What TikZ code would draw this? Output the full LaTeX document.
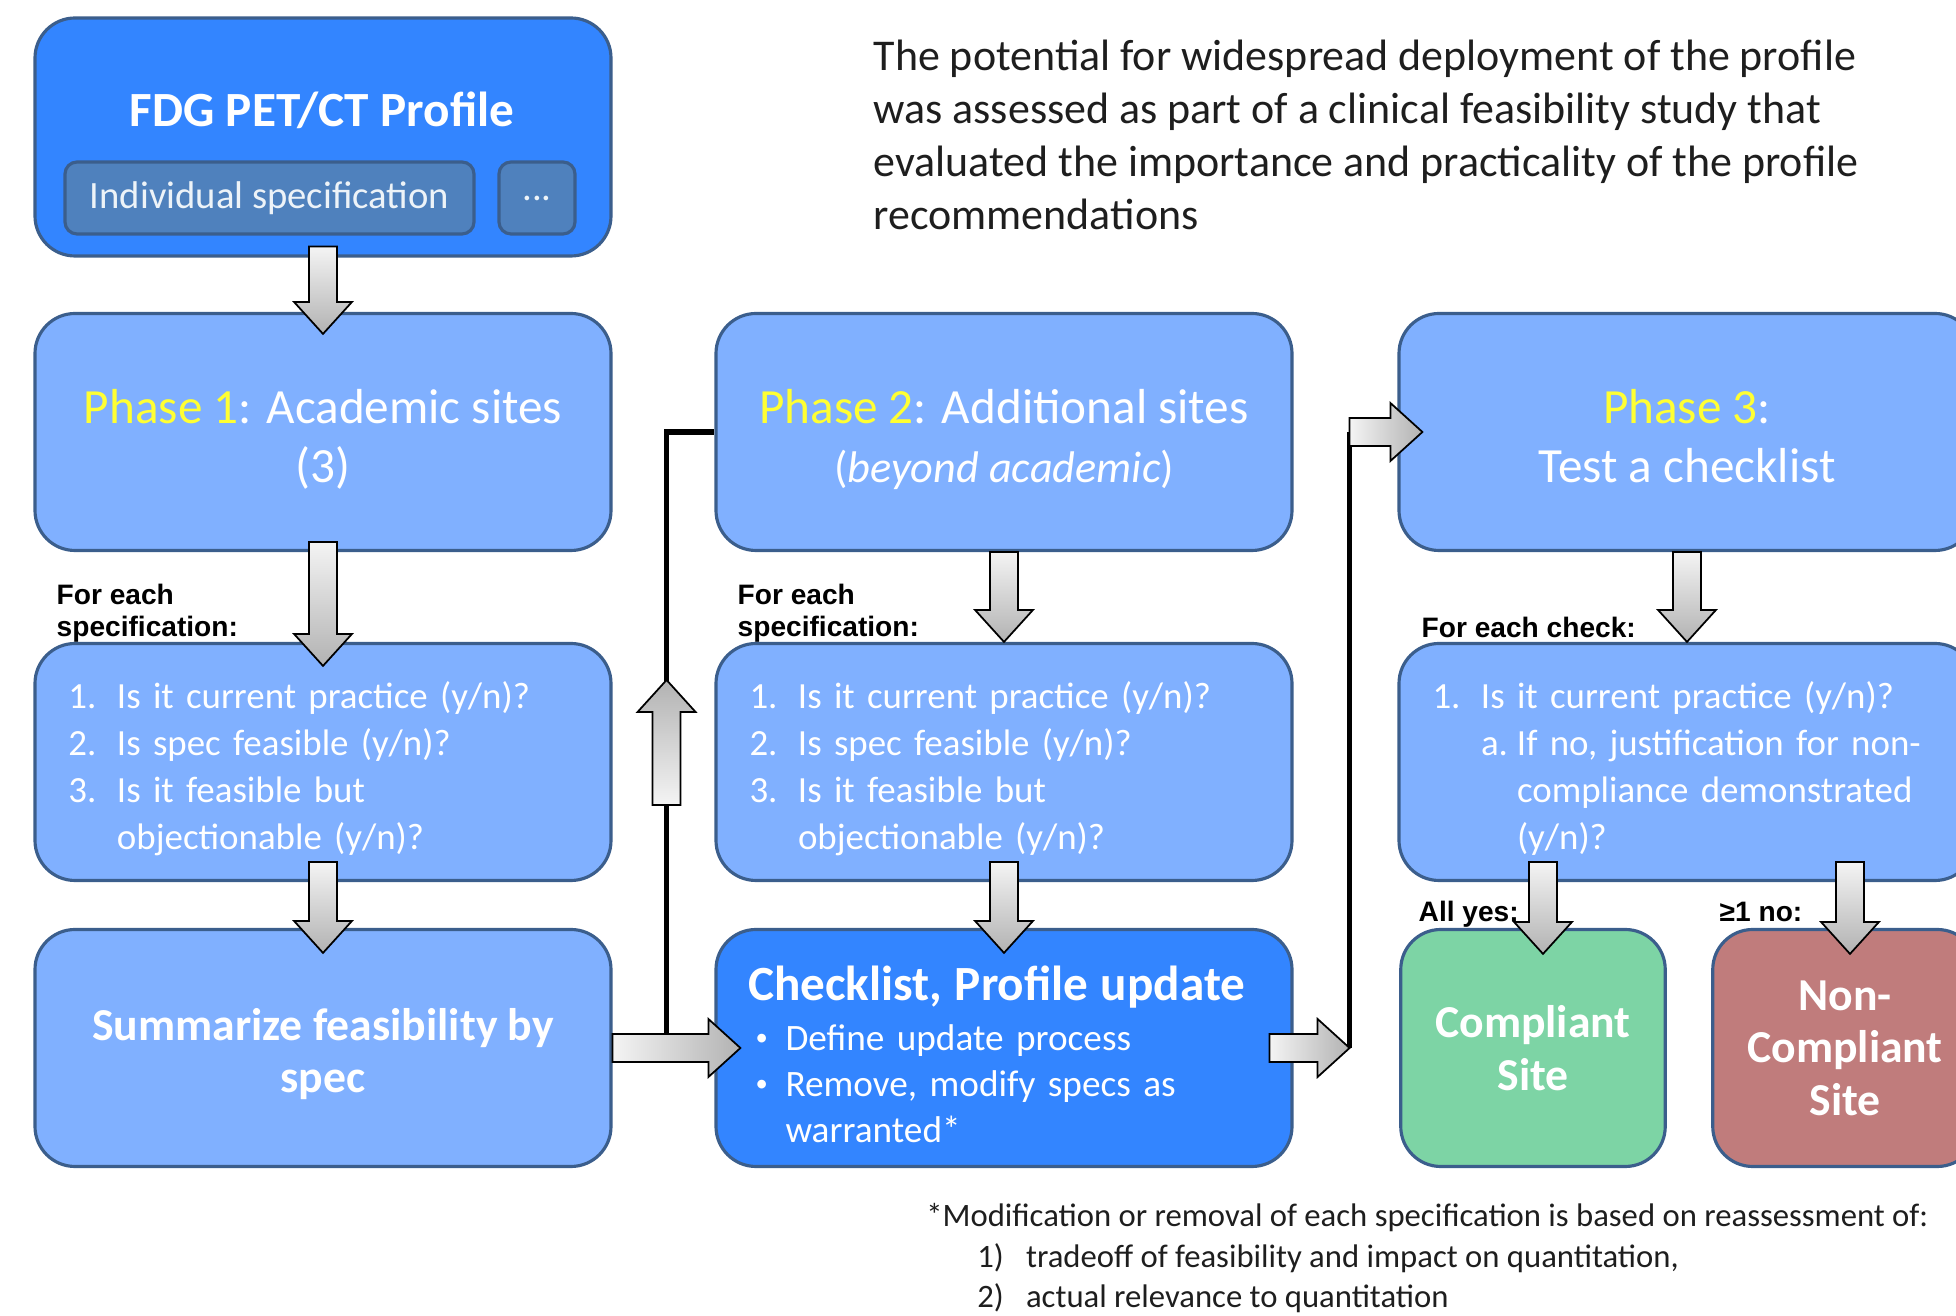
\documentclass[tikz,border=0pt]{standalone}
\usepackage{fontspec}
\setmainfont{Carlito}
\newfontfamily\labelfont{Liberation Sans}
\usetikzlibrary{calc, positioning}
\definecolor{c1}{HTML}{80B0FF}
\definecolor{c2}{HTML}{3385FF}
\definecolor{c3}{HTML}{3B5E8C}
\definecolor{c4}{HTML}{4F81BD}
\definecolor{c5}{HTML}{7DD4A5}
\definecolor{c6}{HTML}{C07C7C}
\definecolor{phasecolor}{HTML}{FFFF33}
\definecolor{textcolor}{HTML}{1E1E1E}
\definecolor{arrowlite}{HTML}{F4F4F4}
\definecolor{arrowdark}{HTML}{B2B2B2}

% block arrow from #2 (tail) to #3 (tip)
\newcommand\blk[3][]{%
    \coordinate (bt) at #2;
    \coordinate (bh) at #3;
    \coordinate (bc) at ($(bh)!0.32cm!(bt)$);
    \draw[#1] ($(bt)!0.14cm!90:(bh)$) -- ($(bc)!0.14cm!-90:(bt)$)
        -- ($(bc)!0.29cm!-90:(bt)$) -- (bh) -- ($(bc)!0.29cm!90:(bt)$)
        -- ($(bc)!0.14cm!90:(bt)$) -- ($(bt)!0.14cm!-90:(bh)$) -- cycle;
}
\newcommand\dotmark{\raisebox{0.3ex}{\fontsize{7}{7}\selectfont\textbullet}}

\begin{document}
\begin{tikzpicture}[
    every node/.style={inner sep=0pt},
    box/.style={rounded corners=0.4cm, draw=c3, line width=0.9pt, minimum width=5.76cm,
        minimum height=2.37cm, text=white, align=center},
    lite/.style={box, fill=c1},
    deep/.style={box, fill=c2},
    phase/.style={lite, text width=5.4cm, align=flush center, text height=0pt, text depth=4.6pt,
        font=\fontsize{14}{16.6}\selectfont},
    ask/.style={lite, text width=5.09cm, align=left, text height=9.8pt, text depth=0pt,
        font=\fontsize{10.5}{13.3}\selectfont},
    heavy/.style={text width=5.4cm, align=flush center, text height=0pt, text depth=4.4pt,
        font=\bfseries\fontsize{13}{14.9}\selectfont},
    site/.style={box, minimum width=2.645cm, font=\bfseries\fontsize{13}{14.9}\selectfont},
    specbox/.style={rounded corners=0.12cm, draw=c3, line width=0.9pt, fill=c4,
        minimum height=0.72cm, text=white!90!c4, font=\fontsize{11}{13}\selectfont},
    tag/.style={font=\labelfont\bfseries\fontsize{8}{9.2}\selectfont, align=left, text=black},
    link/.style={black, line width=1.5pt},
    blkarrow/.style={draw=black, line width=0.5pt, line join=miter},
    shadedown/.style={blkarrow, top color=arrowlite, bottom color=arrowdark},
    shadeup/.style={blkarrow, bottom color=arrowlite, top color=arrowdark},
    shaderight/.style={blkarrow, left color=arrowlite, right color=arrowdark},
]
\useasboundingbox (0,0) rectangle (19.56,13.16);
\def\asks{\begin{tabular}{@{}p{0.485cm}@{}l@{}}
    1. & Is it current practice (y/n)?\\
    2. & Is spec feasible (y/n)?\\
    3. & Is it feasible but\\
       & objectionable (y/n)?
\end{tabular}}

% the profile
\node[deep, minimum height=2.38cm] (fdg) at (3.23, 11.79) {};
\node[font=\bfseries\fontsize{14}{16}\selectfont, text=white] (fdgname) at (3.22, 12.06) {FDG PET/CT Profile};
\node[specbox, minimum width=4.09cm] (spec) at (2.695, 11.18) {Individual specification};
\node[specbox, minimum width=0.76cm] (more) at (5.37, 11.18) {...};

\node[anchor=north west, align=left, font=\fontsize{12.5}{15.1}\selectfont, text=textcolor] (intro)
    at (8.73, 12.77) {The potential for widespread deployment of the profile\\
    was assessed as part of a clinical feasibility study that\\
    evaluated the importance and practicality of the profile\\
    recommendations};

% the three phases
\node[phase] (ph1) at (3.23, 8.84) {\textcolor{phasecolor}{Phase 1}: Academic sites\\(3)};
\node[phase] (ph2) at (10.04, 8.84) {\textcolor{phasecolor}{Phase 2}: Additional sites\\
    {\fontsize{12.6}{16.6}\selectfont(\textit{beyond academic})}};
\node[phase] (ph3) at (16.87, 8.84) {\textcolor{phasecolor}{Phase 3}:\\Test a checklist};

\node[tag, anchor=north west] (each1) at (0.56, 7.33) {For each\\specification:};
\node[tag, anchor=north west] (each2) at (7.37, 7.33) {For each\\specification:};
\node[tag, anchor=base west] (each3) at (14.21, 6.78) {For each check:};

\node[ask] (q1) at (3.23, 5.54) {\asks};
\node[ask] (q2) at (10.04, 5.54) {\asks};
\node[ask] (q3) at (16.87, 5.54) {\begin{tabular}{@{}p{0.485cm}@{}l@{}}
    1. & Is it current practice (y/n)?\\
       & \makebox[0.36cm][l]{a.}If no, justification for non-\\
       & \hspace{0.36cm}compliance demonstrated\\
       & \hspace{0.36cm}(y/n)?
\end{tabular}};

% results
\node[lite, heavy] (summ) at (3.23, 2.68) {Summarize feasibility by\\spec};
\node[deep, text width=5.12cm, align=left, text height=0pt, text depth=27.2pt,
    font=\fontsize{10.6}{13.1}\selectfont] (chk) at (10.04, 2.68)
    {{\bfseries\fontsize{14}{16}\selectfont Checklist, Profile update\par}\vspace{2pt}
    \begin{tabular}{@{\hspace{0.075cm}}p{0.30cm}@{}l@{}}
        \dotmark & Define update process\\
        \dotmark & Remove, modify specs as\\
                 & warranted*
    \end{tabular}};

\node[tag, anchor=base west] (allyes) at (14.18, 3.94) {All yes:};
\node[tag, anchor=base west] (oneno) at (17.19, 3.94) {≥1 no:};
\node[site, fill=c5] (comp) at (15.33, 2.68) {Compliant\\Site};
\node[site, fill=c6] (noncomp) at (18.45, 2.68) {Non-\\Compliant\\Site};

\node[anchor=base west, font=\fontsize{9.3}{11.5}\selectfont, text=textcolor] (foot) at (9.256, 0.89)
    {\begin{tabular}[t]{@{}p{0.511cm}@{}p{0.487cm}@{}l@{}}
        \multicolumn{3}{@{}l@{}}{*Modification or removal of each specification is based on reassessment of:}\\
        & 1) & tradeoff of feasibility and impact on quantitation,\\
        & 2) & actual relevance to quantitation
    \end{tabular}};

% the loops back to the next phase
\coordinate (loopA) at ([xshift=0.54cm]summ.east);
\coordinate (riseB) at ([xshift=0.56cm]chk.east);
\draw[link] (loopA) |- (ph2.west);
\draw[link] (riseB) -- (riseB |- ph3.west);

% block arrows
\blk[shadedown]{($(fdg.south)+(0,0.11)$)}{($(ph1.north)+(0,-0.22)$)}
\blk[shadedown]{($(ph1.south)+(0,0.1)$)}{($(q1.north)+(0,-0.24)$)}
\blk[shadedown]{($(q1.south)+(0,0.2)$)}{($(summ.north)+(0,-0.25)$)}
\blk[shadedown]{(ph2.south)}{(q2.north)}
\blk[shadedown]{($(q2.south)+(0,0.2)$)}{($(chk.north)+(0,-0.25)$)}
\blk[shadedown]{(ph3.south)}{(q3.north)}
\blk[shadedown]{($(comp.north |- q3.south)+(0.1,0.2)$)}{($(comp.north)+(0.1,-0.26)$)}
\blk[shadedown]{($(noncomp.north |- q3.south)+(0.05,0.2)$)}{($(noncomp.north)+(0.05,-0.26)$)}
\blk[shaderight]{(summ.east)}{($(chk.west)+(0.26,0)$)}
\blk[shaderight]{($(chk.east)+(-0.24,0)$)}{(riseB)}
\blk[shaderight]{(riseB |- ph3.west)}{($(ph3.west)+(0.25,0)$)}
\blk[shadeup]{($(loopA)+(0,2.43)$)}{($(loopA)+(0,3.68)$)}
\end{tikzpicture}
\end{document}
